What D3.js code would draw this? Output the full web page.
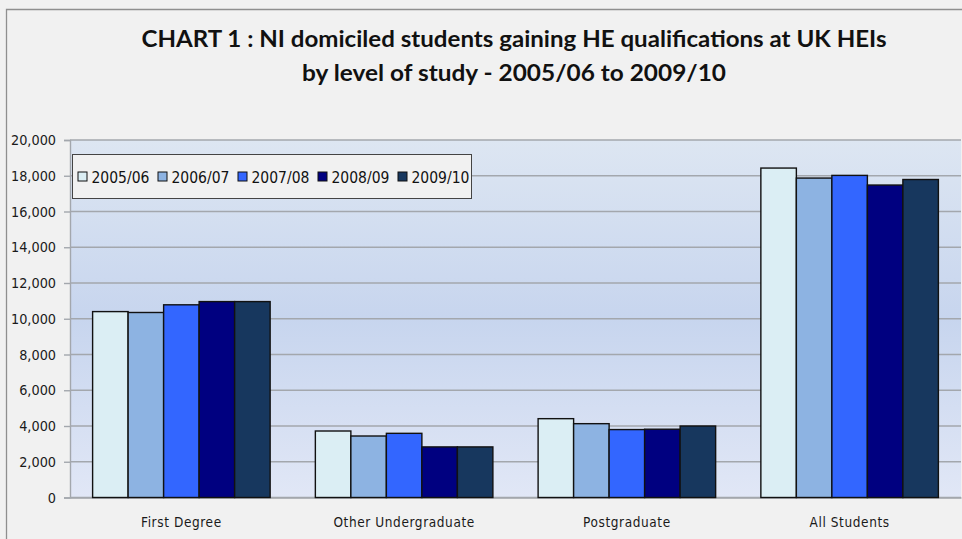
<!DOCTYPE html>
<html>
<head>
<meta charset="utf-8">
<script src="https://cdn.jsdelivr.net/npm/d3@7"></script>
<style>
  html, body { margin: 0; padding: 0; background: #f1f1f1; }
  svg { display: block; }
</style>
</head>
<body>
<svg id="chart" width="962" height="539"></svg>
<script>
const categories = ["First Degree", "Other Undergraduate", "Postgraduate", "All Students"];
const seriesNames = ["2005/06", "2006/07", "2007/08", "2008/09", "2009/10"];
const s2005 = [10400, 3720, 4410, 18430];
const s2006 = [10350, 3440, 4130, 17870];
const s2007 = [10780, 3590, 3800, 18020];
const s2008 = [10960, 2830, 3820, 17480];
const s2009 = [10960, 2830, 4000, 17790];
const seriesValues = [s2005, s2006, s2007, s2008, s2009];
const seriesColors = ["#dbeef4", "#8db3e2", "#3366ff", "#000080", "#17375e"];
const yTicks = [0, 2000, 4000, 6000, 8000, 10000, 12000, 14000, 16000, 18000, 20000];
const titleLines = ["CHART 1 : NI domiciled students gaining HE qualifications at UK HEIs",
                    "by level of study - 2005/06 to 2009/10"];

const svg = d3.select("#chart");
const W = 962, H = 539;
const plot = {left: 70, right: 961, top: 140, bottom: 497.5};
const tickFont = "'DejaVu Sans Condensed', 'DejaVu Sans', sans-serif";

// page background & outer border
svg.append("rect").attr("x", 0).attr("y", 0).attr("width", W).attr("height", H).attr("fill", "#f1f1f1");
svg.append("path").attr("d", `M6.5,${H} L6.5,9.5 L${W},9.5`)
  .attr("fill", "none").attr("stroke", "#8f8f8f").attr("stroke-width", 1.3);

// gradient plot background
const defs = svg.append("defs");
const grad = defs.append("linearGradient").attr("id", "bg").attr("x1", 0).attr("y1", 0).attr("x2", 0).attr("y2", 1);
grad.append("stop").attr("offset", "0%").attr("stop-color", "#dde6f2");
grad.append("stop").attr("offset", "50%").attr("stop-color", "#c7d5ee");
grad.append("stop").attr("offset", "100%").attr("stop-color", "#e1e7f6");
svg.append("rect").attr("x", plot.left).attr("y", plot.top)
  .attr("width", plot.right - plot.left).attr("height", plot.bottom - plot.top)
  .attr("fill", "url(#bg)");

// scales
const y = d3.scaleLinear().domain([0, 20000]).range([plot.bottom, plot.top]);
const x0 = d3.scaleBand().domain(categories).range([plot.left, plot.right])
  .paddingInner(0.203).paddingOuter(0.1015);
const x1 = d3.scaleBand().domain(seriesNames).range([0, x0.bandwidth()]).padding(0);

// gridlines
svg.append("g").selectAll("line").data(yTicks).join("line")
  .attr("x1", plot.left).attr("x2", plot.right)
  .attr("y1", d => y(d)).attr("y2", d => y(d))
  .attr("stroke", "#a3a7ad").attr("stroke-width", 1.4);

// y axis
const yAxis = d3.axisLeft(y).tickValues(yTicks).tickSize(6).tickPadding(8)
  .tickFormat(d3.format(","));
const gy = svg.append("g").attr("transform", `translate(${plot.left},0)`).call(yAxis);
gy.select(".domain").attr("stroke", "#a3a7ad").attr("stroke-width", 1.4);
gy.selectAll(".tick line").attr("stroke", "#a3a7ad").attr("stroke-width", 1.4);
gy.selectAll(".tick text").attr("font-family", tickFont).attr("font-size", "14.3px").attr("fill", "#1a1a1a");

// x axis
const xAxis = d3.axisBottom(x0).tickSize(0).tickPadding(20);
const gx = svg.append("g").attr("transform", `translate(0,${plot.bottom})`).call(xAxis);
gx.select(".domain").attr("stroke", "#a3a7ad").attr("stroke-width", 1.4);
gx.selectAll(".tick text").attr("font-family", tickFont).attr("font-size", "13.5px")
  .attr("letter-spacing", "0.6px").attr("fill", "#1a1a1a");

// bars
const barData = [];
categories.forEach((c, i) => {
  seriesNames.forEach((s, j) => barData.push({cat: c, ser: s, val: seriesValues[j][i], color: seriesColors[j]}));
});
svg.append("g").selectAll("rect").data(barData).join("rect")
  .attr("x", d => x0(d.cat) + x1(d.ser))
  .attr("y", d => y(d.val))
  .attr("width", x1.bandwidth())
  .attr("height", d => y(0) - y(d.val))
  .attr("fill", d => d.color)
  .attr("stroke", "#111")
  .attr("stroke-width", 1.4);

// legend
const lg = svg.append("g");
lg.append("rect").attr("x", 72.5).attr("y", 154.5).attr("width", 399).attr("height", 44)
  .attr("fill", "#f1f1f1").attr("stroke", "#444").attr("stroke-width", 1);
seriesNames.forEach((s, j) => {
  const lx = 78 + j * 80;
  lg.append("rect").attr("x", lx).attr("y", 172).attr("width", 9).attr("height", 9)
    .attr("fill", seriesColors[j]).attr("stroke", "#111").attr("stroke-width", 1);
  lg.append("text").attr("x", lx + 13.5).attr("y", 182.5)
    .attr("font-family", tickFont).attr("font-size", "15.5px").attr("fill", "#111")
    .text(s);
});

// title
const tf = "Lato, 'Open Sans', sans-serif";
svg.append("text").attr("x", 514).attr("y", 46.5).attr("text-anchor", "middle")
  .attr("font-family", tf).attr("font-weight", "bold").attr("font-size", "23px").attr("fill", "#111")
  .attr("textLength", 745).attr("lengthAdjust", "spacingAndGlyphs")
  .text(titleLines[0]);
svg.append("text").attr("x", 514).attr("y", 80.5).attr("text-anchor", "middle")
  .attr("font-family", tf).attr("font-weight", "bold").attr("font-size", "23px").attr("fill", "#111")
  .attr("textLength", 424).attr("lengthAdjust", "spacingAndGlyphs")
  .text(titleLines[1]);
</script>
</body>
</html>
